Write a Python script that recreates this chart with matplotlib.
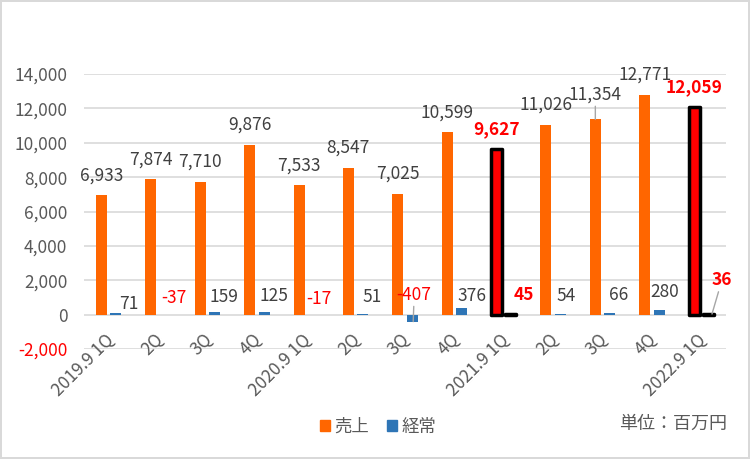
import numpy as np
import matplotlib
matplotlib.use("Agg")
import matplotlib.pyplot as plt
from matplotlib.patches import Patch

plt.rcParams["font.family"] = ["Noto Sans CJK JP", "DejaVu Sans"]

quarters = ["2019.9 1Q", "2Q", "3Q", "4Q", "2020.9 1Q", "2Q", "3Q", "4Q",
            "2021.9 1Q", "2Q", "3Q", "4Q", "2022.9 1Q"]
sales = [6933, 7874, 7710, 9876, 7533, 8547, 7025, 10599, 9627, 11026, 11354, 12771, 12059]
ordinary = [71, -37, 159, 125, -17, 51, -407, 376, 45, 54, 66, 280, 36]
highlight = [8, 12]
y_ticks = np.arange(-2000, 14001, 2000)

# label nudges for the small 経常 labels (pixels: right, up from zero line)
ord_dx = [13, 9, 9.5, 10, 5, 9.5, 1, 10, 13, 6, 9, 6, 10]
ord_dy = [11, 17, 18, 19, 16, 18, 27, 19, 20, 19, 20, 23, 34]
px = 0.72  # px -> pt at 100 dpi

fig = plt.figure(figsize=(7.5, 4.59), dpi=100, edgecolor="#D9D9D9", linewidth=1.5)
ax = fig.add_axes([84 / 750, 110 / 459, 642 / 750, 275 / 459])

x = np.arange(len(quarters))
w = 0.223
off = 0.146
orange, blue = "#FF6600", "#2E75B6"

s_col = ["#FF0000" if i in highlight else orange for i in x]
o_col = ["#FF0000" if i in highlight else blue for i in x]
edges = ["black" if i in highlight else "none" for i in x]
lws = [2.5 if i in highlight else 0 for i in x]

ax.bar(x - off, sales, w, color=s_col, edgecolor=edges, linewidth=lws, joinstyle="round", zorder=3)
ax.bar(x + off, ordinary, w, color=o_col, edgecolor=edges, linewidth=lws, joinstyle="round", zorder=3)

ax.set_xlim(-0.5, 12.5)
ax.set_ylim(-2000, 14000)
ax.set_yticks(y_ticks, labels=[f"{v:,}" for v in y_ticks])
ax.set_xticks([])
ax.grid(axis="y", color="#D9D9D9", lw=1.2)
ax.set_axisbelow(True)
for s in ax.spines.values():
    s.set_visible(False)
ax.tick_params(axis="y", length=0, pad=12, labelsize=12.5, labelcolor="#595959")
ax.get_yticklabels()[0].set_color("red")

txt = "#404040"
for i in x:
    hl = i in highlight
    kw = dict(color="red", fontweight="bold") if hl else dict(color=txt)
    up = 25 if i == 10 else 20
    arrow = dict(arrowstyle="-", color="#A6A6A6", lw=1, shrinkA=0, shrinkB=0) if i == 10 else None
    ax.annotate(f"{sales[i]:,}", xy=(i - off, sales[i]), xytext=(0, up * px),
                textcoords="offset points", ha="center", va="center", fontsize=12.5,
                arrowprops=arrow, **kw)

    v = ordinary[i]
    if hl:
        kw = dict(color="red", fontweight="bold")
    elif v < 0:
        kw = dict(color="red")
    else:
        kw = dict(color=txt)
    arrow = None
    xy = (i + off, 0)
    if i in (6, 12):
        arrow = dict(arrowstyle="-", color="#A6A6A6", lw=1, shrinkA=0, shrinkB=0)
        xy = (i + off + (0.02 if i == 6 else 0.07), v)
    ax.annotate(f"{v:,}", xy=xy, xytext=(ord_dx[i] * px, ord_dy[i] * px),
                textcoords=("offset points", "offset points") if arrow is None else "offset points",
                ha="center", va="center", fontsize=12.5, arrowprops=arrow, **kw)

for i, q in enumerate(quarters):
    ax.annotate(q, xy=(i, 0), xytext=(2 * px, -22 * px), textcoords="offset points",
                rotation=45, ha="right", va="center", rotation_mode="anchor",
                fontsize=12.5, color="#595959")

fig.legend(handles=[Patch(color=orange, label="売上"), Patch(color=blue, label="経常")],
           loc="center", bbox_to_anchor=(0.504, 0.07), ncol=2, frameon=False,
           handlelength=0.6, handleheight=0.6, handletextpad=0.25, columnspacing=1.0,
           fontsize=12.5, labelcolor="#595959")
fig.text(727 / 750, 1 - 424 / 459, "単位：百万円", ha="right", va="center",
         fontsize=13, color="#595959")

fig.savefig("out.png", dpi=100)
